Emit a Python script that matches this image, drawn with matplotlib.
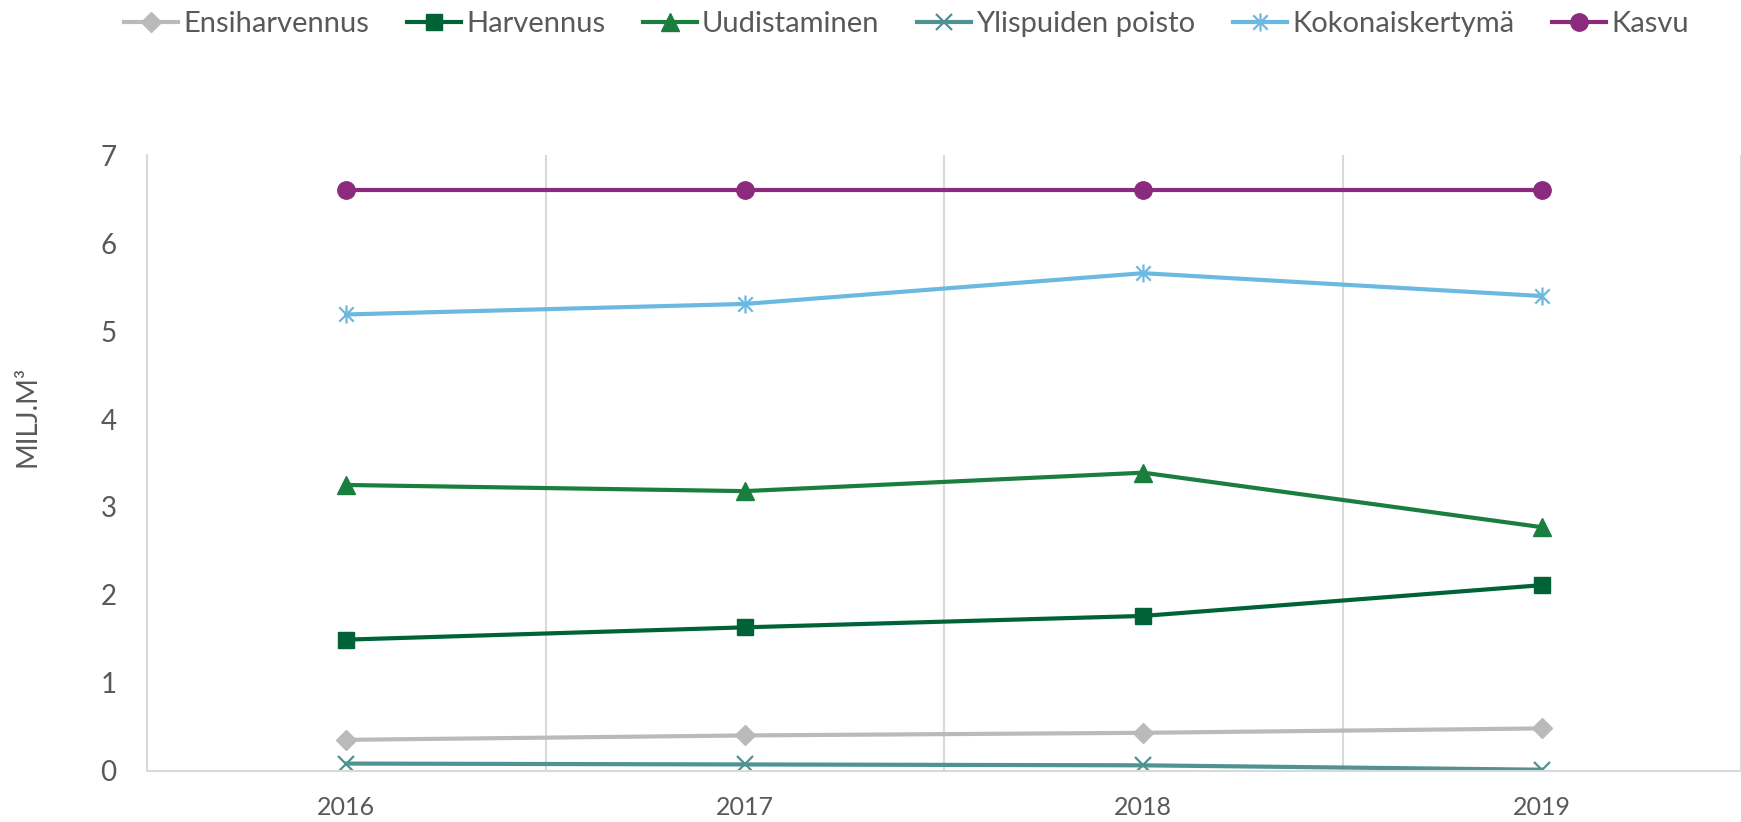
import numpy as np
import matplotlib
matplotlib.use('Agg')
import matplotlib.pyplot as plt
from matplotlib.path import Path

# data (milj. m3)
years = ['2016', '2017', '2018', '2019']
ensiharvennus = [0.35, 0.40, 0.43, 0.48]
harvennus = [1.49, 1.63, 1.76, 2.11]
uudistaminen = [3.25, 3.18, 3.39, 2.77]
ylispuiden_poisto = [0.08, 0.07, 0.06, 0.01]
kokonaiskertyma = [5.19, 5.31, 5.66, 5.40]
kasvu = [6.61, 6.61, 6.61, 6.61]

labels = ['Ensiharvennus', 'Harvennus', 'Uudistaminen', 'Ylispuiden poisto',
          'Kokonaiskertymä', 'Kasvu']
colors = ['#BABABA', '#006338', '#1A7F3E', '#4E9292', '#6BB9E0', '#8C2A7D']

# asterisk marker like the one excel uses
star = Path([(0, -1), (0, 1), (-0.8, -0.8), (0.8, 0.8), (-0.8, 0.8), (0.8, -0.8)],
            [Path.MOVETO, Path.LINETO, Path.MOVETO, Path.LINETO, Path.MOVETO, Path.LINETO])

styles = [dict(marker='D', ms=10),
          dict(marker='s', ms=12),
          dict(marker='^', ms=13),
          dict(marker='x', ms=11, mew=1.6),
          dict(marker=star, ms=13, mew=1.6),
          dict(marker='o', ms=12.5)]

series = [ensiharvennus, harvennus, uudistaminen, ylispuiden_poisto, kokonaiskertyma, kasvu]

fig = plt.figure(figsize=(17.41, 8.22), dpi=100)
ax = fig.add_axes([147/1741, 51.4/822, 1 - 147/1741, 615.2/822])

x = np.arange(len(years))
for vals, lab, col, st in zip(series, labels, colors, styles):
    ax.plot(x, vals, color=col, lw=3, label=lab, **st)

ax.set_xlim(-0.5, 3.5)
ax.set_ylim(0, 7)
ax.set_yticks(range(0, 8))
ax.set_xticks(x)
ax.set_xticklabels(years)
ax.set_xticks(x[:-1] + 0.5, minor=True)
ax.grid(axis='x', which='minor', color='#D9D9D9', lw=1.5)
ax.axvline(3.5, color='#D9D9D9', lw=1.5)

for s in ['top', 'right']:
    ax.spines[s].set_visible(False)
for s in ['left', 'bottom']:
    ax.spines[s].set_color('#D9D9D9')
    ax.spines[s].set_linewidth(1.5)

ax.tick_params(axis='both', which='both', length=0, colors='#595959')
ax.tick_params(axis='y', pad=22, labelsize=20)
ax.tick_params(axis='x', pad=18, labelsize=18)
for t in ax.get_yticklabels():
    t.set_family(['Lato', 'DejaVu Sans'])
for t in ax.get_xticklabels():
    t.set_family(['Lato', 'DejaVu Sans'])

fig.text(28/1741, 0.493, 'MILJ.M³', rotation=90, ha='center', va='center',
         fontsize=20, color='#595959', family=['Lato', 'DejaVu Sans'])

leg = fig.legend(loc='upper center', bbox_to_anchor=(0.5207, 1.018), ncol=6, frameon=False,
                 handlelength=1.85, handletextpad=0.17, columnspacing=1.3,
                 prop={'family': ['Lato', 'DejaVu Sans'], 'size': 21})
for t in leg.get_texts():
    t.set_color('#595959')

fig.savefig('out.png', dpi=100)
